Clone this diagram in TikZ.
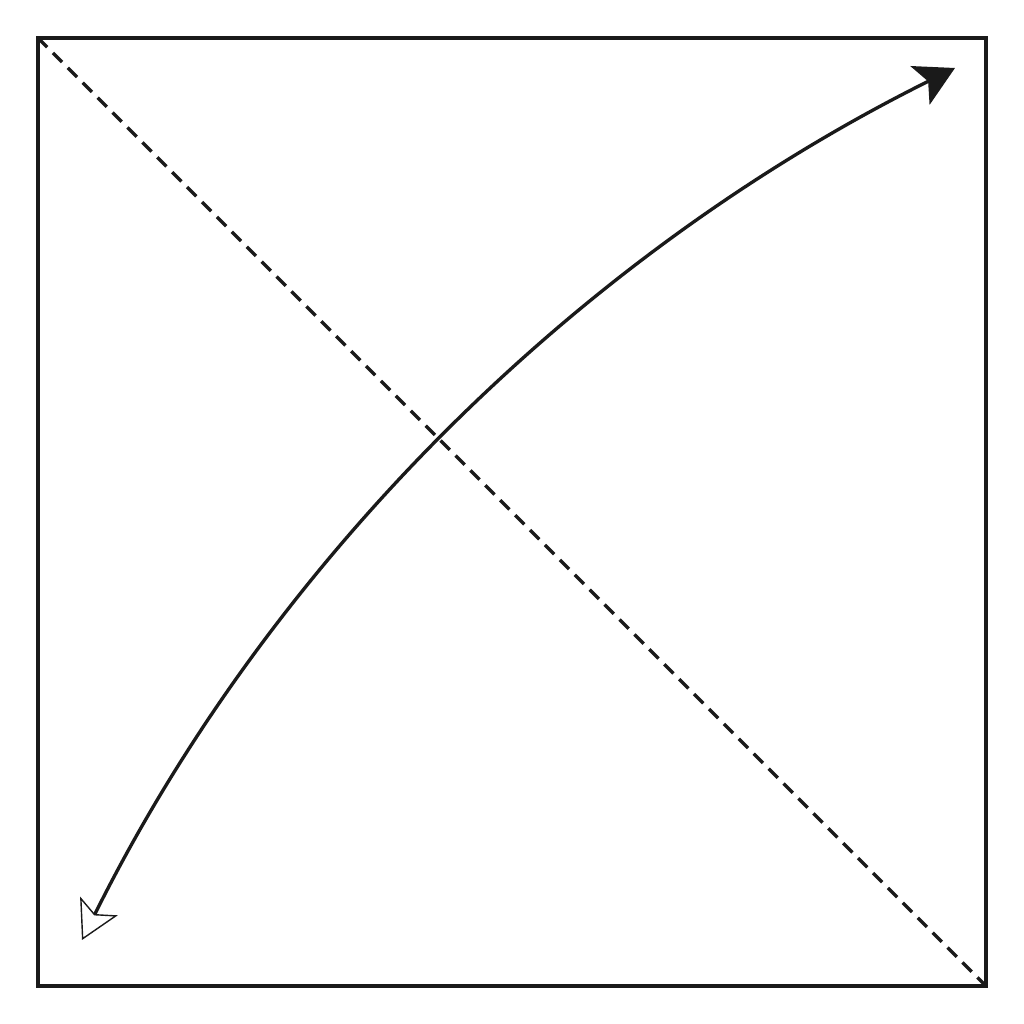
\documentclass[tikz,border=0pt]{standalone}
\usepackage{xcolor}
\usepackage{tikz}
\usetikzlibrary{arrows.meta}
\definecolor{C0}{HTML}{1a1a1a}

\begin{document}
\begin{tikzpicture}[
    frameline/.style={draw=C0, line width=1.05pt},
    diagline/.style={draw=C0, line width=0.95pt, dash pattern=on 3.7pt off 2.3pt},
    arcline/.style={draw=C0, line width=0.95pt,
        {Stealth[open, length=3.8mm, width=4.2mm, inset=0.9mm, line width=0.4pt]}-{Stealth[length=3.9mm, width=4.3mm, inset=0.9mm]}}
]%
\useasboundingbox (0,0) rectangle (10.24, 10.24);%
\coordinate (sw) at (0.38, 0.38);%
\coordinate (ne) at (9.86, 9.86);%
\coordinate (nw) at (0.38, 9.86);%
\coordinate (se) at (9.86, 0.38);%
\coordinate (tail) at (0.82, 0.84);%
\coordinate (head) at (9.55, 9.56);%
\draw[frameline] (sw) rectangle (ne);%
\draw[diagline] (nw) -- (se);%
\draw[arcline] (tail) .. controls (2.70, 4.62) and (5.77, 7.68) .. (head);%
\end{tikzpicture}
\end{document}
